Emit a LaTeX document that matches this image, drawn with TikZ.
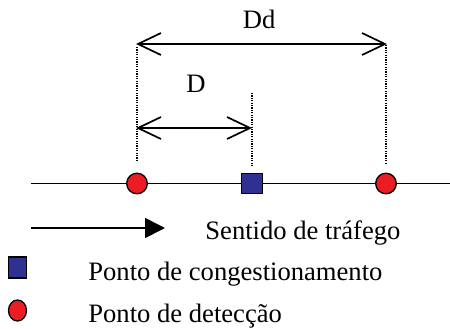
\documentclass[tikz,border=0pt]{standalone}
\usepackage{fontspec}
\setmainfont{Liberation Serif}
\usetikzlibrary{arrows.meta,shapes.geometric}
\definecolor{detred}{RGB}{236,28,36}
\definecolor{congblue}{RGB}{46,49,146}
\begin{document}
\begin{tikzpicture}[x=0.5pt,y=-0.5pt,
  lbl/.style={inner sep=0pt,anchor=base west,font=\fontsize{13.3}{16}\selectfont},
  detpt/.style={circle,draw=black,line width=0.65pt,fill=detred,minimum size=10.3pt,inner sep=0pt},
  congpt/.style={rectangle,draw=black,line width=0.65pt,fill=congblue,minimum width=10.3pt,minimum height=10.3pt,inner sep=0pt},
  legdet/.style={ellipse,draw=black,line width=0.65pt,fill=detred,minimum width=9pt,minimum height=10.5pt,inner sep=0pt},
  legcong/.style={rectangle,draw=black,line width=0.65pt,fill=congblue,minimum width=9pt,minimum height=10.5pt,inner sep=0pt},
  road/.style={line width=0.7pt},
  dimarrow/.style={line width=0.85pt,{Straight Barb[length=11.5pt,width=11pt]}-{Straight Barb[length=11.5pt,width=11pt]}},
  guide/.style={line width=0.6pt,dash pattern=on 0.6pt off 0.6pt},
  flow/.style={line width=0.8pt,-{Triangle[length=10pt,width=10pt]}}
]
\useasboundingbox (0,0) rectangle (450,328);
% road
\coordinate (roadL) at (31,183.5);
\coordinate (roadR) at (450,183.5);
\draw[road] (roadL) -- (roadR);
\node[detpt] (d1) at (137,183.5) {};
\node[congpt] (c1) at (252,183.5) {};
\node[detpt] (d2) at (386,183.5) {};
% guides
\coordinate (g1top) at (137,47);
\coordinate (g1bot) at (137,161);
\coordinate (g2top) at (386,45);
\coordinate (g2bot) at (386,165);
\coordinate (g3top) at (252,93);
\coordinate (g3bot) at (252,167);
\draw[guide] (g1top) -- (g1bot);
\draw[guide] (g2top) -- (g2bot);
\draw[guide] (g3top) -- (g3bot);
% dimension arrows
\coordinate (ddL) at (136,44);
\coordinate (ddR) at (387,44);
\coordinate (dL) at (136,128);
\coordinate (dR) at (252,128);
\draw[dimarrow] (ddL) -- (ddR);
\draw[dimarrow] (dL) -- (dR);
\node[lbl] (ddlabel) at (242.5,28) {Dd};
\node[lbl] (dlabel) at (186,92) {D};
% legend
\coordinate (flowL) at (31,228);
\coordinate (flowR) at (165,228);
\draw[flow] (flowL) -- (flowR);
\node[lbl] (sentido) at (205,239) {Sentido de tráfego};
\node[legcong] (lc) at (17.5,267.5) {};
\node[lbl] (congtxt) at (88,280) {Ponto de congestionamento};
\node[legdet] (ld) at (17.5,310.5) {};
\node[lbl] (dettxt) at (88,322) {Ponto de detecção};
\end{tikzpicture}
\end{document}
